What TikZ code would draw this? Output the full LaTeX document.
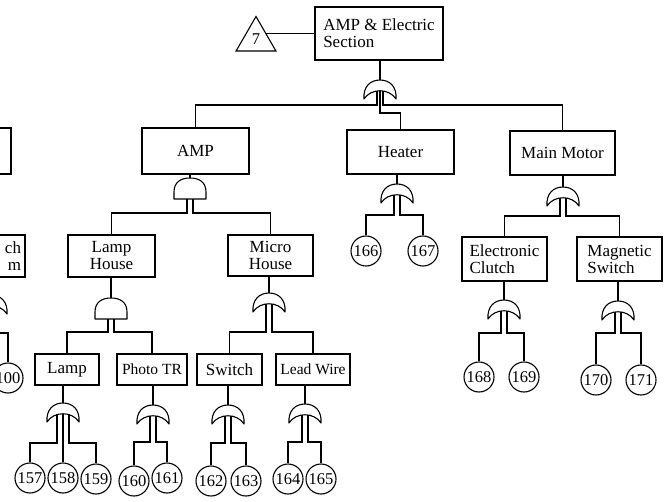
\documentclass[tikz,border=0pt]{standalone}
\usepackage{fontspec}
\setmainfont{Liberation Serif}
\usetikzlibrary{shapes.geometric}
\newcommand{\boxfont}{\fontsize{17}{17}\selectfont}
\newcommand{\tightfont}{\fontsize{15.5}{17}\selectfont}
\newcommand{\numfont}{\fontsize{16.5}{17}\selectfont}
\tikzset{
  event/.style={draw, line width=1.1pt, inner sep=2pt, align=center, font=\boxfont},
  leftevent/.style={event, align=left},
  basic/.style={circle, draw, line width=1.1pt, minimum size=30pt, inner sep=0pt, font=\numfont},
  transfer/.style={regular polygon, regular polygon sides=3, draw, line width=1.1pt,
    minimum size=46pt, inner sep=0pt, font=\numfont},
  wire/.style={line width=1.1pt},
  gateline/.style={line width=1.1pt, line join=round},
  orgate/.pic={
    \draw[gateline] (-16,19) .. controls (-17,7) and (-10,0) .. (0,0)
      .. controls (10,0) and (17,7) .. (16,19)
      .. controls (9,8) and (-9,8) .. (-16,19) -- cycle;
    \coordinate (-top) at (0,0);
    \coordinate (-l) at (-3,11); \coordinate (-c) at (0,11); \coordinate (-r) at (3,11);
    \coordinate (-ll) at (-6,11); \coordinate (-rr) at (6,11);
  },
  andgate/.pic={
    \draw[gateline] (-16,21) -- (-16,14) .. controls (-16,4) and (-9,0) .. (0,0)
      .. controls (9,0) and (16,4) .. (16,14) -- (16,21) -- cycle;
    \coordinate (-top) at (0,0);
    \coordinate (-l) at (-3,21); \coordinate (-r) at (3,21);
  }
}

\begin{document}
\begin{tikzpicture}[x=1pt, y=-1pt]
\useasboundingbox (0,0) rectangle (666,502);
\clip (0,0) rectangle (666,502);

% top event
\node[leftevent, minimum width=128pt, minimum height=53pt] (top) at (379,33.5) {AMP \& Electric\\Section};
\node[transfer] (t7) at (256,39.5) {7};
\draw[wire] (t7.side 3) -- (t7.side 3 -| top.west);

\pic (gtop) at (380,80) {orgate};
\draw[wire] (gtop-top) -- (gtop-top |- top.south);

\node[event, minimum width=107pt, minimum height=46pt] (amp) at (195.5,151) {AMP};
\node[event, minimum width=107pt, minimum height=44pt] (heater) at (400.5,152) {Heater};
\node[event, minimum width=105pt, minimum height=44pt] (motor) at (562.5,153) {Main Motor};
\node[event, minimum width=107pt, minimum height=46pt] (left1) at (-42.5,151) {};
\draw[wire] (gtop-l) -- ++(0,14) -| (amp.north);
\draw[wire] (gtop-c) -- ++(0,22) -| (heater.north);
\draw[wire] (gtop-r) -- ++(0,14) -| (motor.north);

% AMP
\pic (gamp) at (190,178) {andgate};
\draw[wire] (gamp-top) -- (gamp-top |- amp.south);
\node[event, minimum width=87pt, minimum height=42pt] (lamph) at (111.5,256) {Lamp\\House};
\node[event, minimum width=85pt, minimum height=41pt] (microh) at (270.5,255.5) {Micro\\House};
\draw[wire] (gamp-l) -- ++(0,14) -| (lamph.north);
\draw[wire] (gamp-r) -- ++(0,14) -| (microh.north);

% Lamp House
\pic (glh) at (111,298) {andgate};
\draw[wire] (glh-top) -- (glh-top |- lamph.south);
\node[event, minimum width=64pt, minimum height=31pt] (lamp) at (67,369.5) {Lamp};
\node[event, minimum width=70pt, minimum height=31pt, font=\tightfont] (photo) at (152,369.5) {Photo TR};
\draw[wire] (glh-l) -- ++(0,13) -| (lamp.north);
\draw[wire] (glh-r) -- ++(0,13) -| (photo.north);

% Micro House
\pic (gmh) at (269,293) {orgate};
\draw[wire] (gmh-top) -- (gmh-top |- microh.south);
\node[event, minimum width=65pt, minimum height=31pt] (switch) at (229.5,369.5) {Switch};
\node[event, minimum width=74pt, minimum height=31pt, font=\tightfont] (lead) at (313,369.5) {Lead Wire};
\draw[wire] (gmh-l) -- ++(0,28) -| (switch.north);
\draw[wire] (gmh-r) -- ++(0,28) -| (lead.north);

% Lamp
\pic (glamp) at (63,403) {orgate};
\draw[wire] (glamp-top) -- (glamp-top |- lamp.south);
\node[basic] (b157) at (30,478) {157};
\node[basic] (b158) at (63,478) {158};
\node[basic] (b159) at (96,479) {159};
\draw[wire] (glamp-ll) -- ++(0,29) -| (b157.north);
\draw[wire] (glamp-c) -- (b158.north);
\draw[wire] (glamp-rr) -- ++(0,29) -| (b159.north);

% Photo TR
\pic (gphoto) at (153,405) {orgate};
\draw[wire] (gphoto-top) -- (gphoto-top |- photo.south);
\node[basic] (b160) at (134,481) {160};
\node[basic] (b161) at (167,478) {161};
\draw[wire] (gphoto-l) -- ++(0,26) -| (b160.north);
\draw[wire] (gphoto-r) -- ++(0,26) -| (b161.north);

% Switch
\pic (gsw) at (228,405) {orgate};
\draw[wire] (gsw-top) -- (gsw-top |- switch.south);
\node[basic] (b162) at (211,481) {162};
\node[basic] (b163) at (246,481) {163};
\draw[wire] (gsw-l) -- ++(0,27) -| (b162.north);
\draw[wire] (gsw-r) -- ++(0,27) -| (b163.north);

% Lead Wire
\pic (glead) at (305,404) {orgate};
\draw[wire] (glead-top) -- (glead-top |- lead.south);
\node[basic] (b164) at (288,479) {164};
\node[basic] (b165) at (321,479) {165};
\draw[wire] (glead-l) -- ++(0,27) -| (b164.north);
\draw[wire] (glead-r) -- ++(0,27) -| (b165.north);

% Heater
\pic (gheat) at (397,184) {orgate};
\draw[wire] (gheat-top) -- (gheat-top |- heater.south);
\node[basic] (b166) at (366,251) {166};
\node[basic] (b167) at (423,251) {167};
\draw[wire] (gheat-l) -- ++(0,20) -| (b166.north);
\draw[wire] (gheat-r) -- ++(0,20) -| (b167.north);

% Main Motor
\pic (gmotor) at (563,187) {orgate};
\draw[wire] (gmotor-top) -- (gmotor-top |- motor.south);
\node[leftevent, minimum width=85pt, minimum height=44pt] (clutch) at (504.5,259) {Electronic\\Clutch};
\node[leftevent, minimum width=85pt, minimum height=44pt] (magsw) at (619.5,259) {Magnetic\\Switch};
\draw[wire] (gmotor-l) -- ++(0,18) -| (clutch.north);
\draw[wire] (gmotor-r) -- ++(0,18) -| (magsw.north);

\pic (gclutch) at (504,300) {orgate};
\draw[wire] (gclutch-top) -- (gclutch-top |- clutch.south);
\node[basic] (b168) at (479,377) {168};
\node[basic] (b169) at (524,377) {169};
\draw[wire] (gclutch-l) -- ++(0,22) -| (b168.north);
\draw[wire] (gclutch-r) -- ++(0,22) -| (b169.north);

\pic (gmag) at (618,301) {orgate};
\draw[wire] (gmag-top) -- (gmag-top |- magsw.south);
\node[basic] (b170) at (596,380) {170};
\node[basic] (b171) at (641,380) {171};
\draw[wire] (gmag-l) -- ++(0,21) -| (b170.north);
\draw[wire] (gmag-r) -- ++(0,21) -| (b171.north);

% cut off at the left edge
\node[event, minimum width=86pt, minimum height=42pt, text width=78pt, align=right] (left2) at (-18,256) {ch\\m};
\pic (gleft) at (-9,295) {orgate};
\draw[wire] (gleft-top) -- (gleft-top |- left2.south);
\node[basic] (b100) at (8,378) {100};
\draw[wire] (gleft-r) -- ++(0,27) -| (b100.north);
\end{tikzpicture}
\end{document}
